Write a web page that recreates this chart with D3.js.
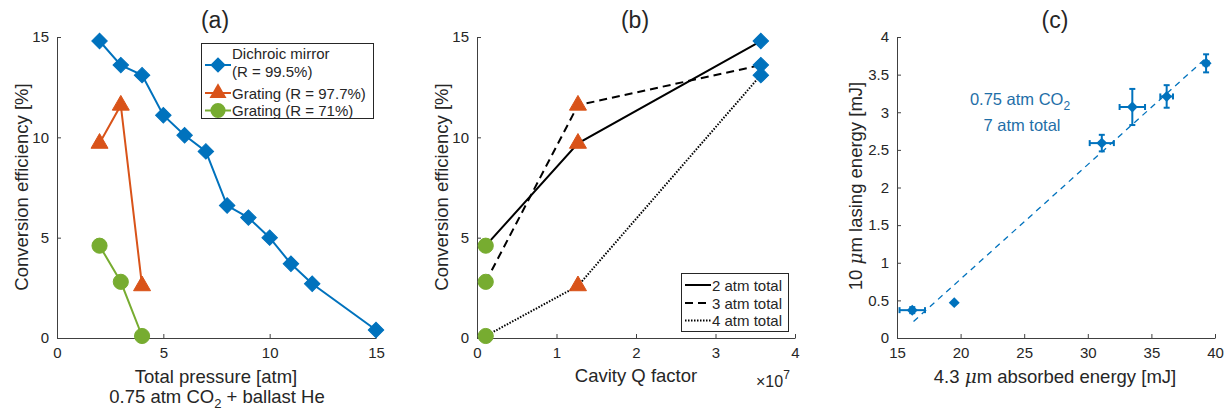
<!DOCTYPE html>
<html>
<head>
<meta charset="utf-8">
<script src="https://cdn.jsdelivr.net/npm/d3@7"></script>
<style>
  body { margin: 0; background: #fff; }
  svg { font-family: "Liberation Sans", Arial, Helvetica, sans-serif; }
  .axis path, .axis line { stroke: #404040; stroke-width: 1; }
  .axis text { fill: #262626; font-size: 15px; font-family: "Liberation Sans", Arial, sans-serif; }
</style>
</head>
<body>
<svg id="chart" width="1230" height="412"></svg>
<script>
// panel (a): efficiency vs total pressure
const pressureDichroic = [2, 3, 4, 5, 6, 7, 8, 9, 10, 11, 12, 15];
const effDichroic = [14.8, 13.6, 13.1, 11.1, 10.1, 9.3, 6.6, 6.0, 5.0, 3.7, 2.7, 0.4];
const pressureGrating = [2, 3, 4];
const effGrating977 = [9.7, 11.6, 2.6];
const effGrating71 = [4.6, 2.8, 0.1];

// panel (b): efficiency vs cavity Q
const qFactors = [0.11e7, 1.27e7, 3.57e7];
const eff2atm = [4.6, 9.7, 14.8];
const eff3atm = [2.8, 11.6, 13.6];
const eff4atm = [0.1, 2.6, 13.1];

// panel (c): lasing vs absorbed energy
const absorbed = [16.2, 19.5, 31.1, 33.5, 36.2, 39.3];
const absorbedErr = [1.0, 0, 0.95, 1.0, 0.5, 0.2];
const lasing = [0.37, 0.47, 2.59, 3.07, 3.21, 3.65];
const lasingErr = [0.04, 0, 0.11, 0.24, 0.15, 0.12];
const fitX = [16.3, 39.3];
const fitY = [0.22, 3.72];

const BLUE = '#0072BD', ORANGE = '#D95319', GREEN = '#77AC30';
const svg = d3.select('#chart');
const plotTop = 37, plotBottom = 338;
const LABEL = 18.5, TITLE = 23;

const diamond = (size) => d3.symbol().type(d3.symbolSquare).size(size)();
const triangle = (size) => d3.symbol().type(d3.symbolTriangle).size(size)();
const circle = (size) => d3.symbol().type(d3.symbolCircle).size(size)();

const dShape = diamond(120);
const tShape = triangle(125);
const cShape = circle(180);

function makeAxes(x0, x1, xDomain, yDomain, xTicks, yTicks) {
    const x = d3.scaleLinear().domain(xDomain).range([x0, x1]);
    const y = d3.scaleLinear().domain(yDomain).range([plotBottom, plotTop]);
    svg.append('g')
        .attr('class', 'axis')
        .attr('transform', 'translate(0,' + plotBottom + ')')
        .call(d3.axisBottom(x).tickValues(xTicks).tickSizeInner(-4).tickSizeOuter(0).tickPadding(9)
            .tickFormat((d) => xDomain[1] > 1e6 ? d / 1e7 : d));
    svg.append('g')
        .attr('class', 'axis')
        .attr('transform', 'translate(' + x0 + ',0)')
        .call(d3.axisLeft(y).tickValues(yTicks).tickSizeInner(-4).tickSizeOuter(0).tickPadding(8)
            .tickFormat(d3.format('~g')));
    svg.selectAll('.axis path').attr('fill', 'none');
    return { x, y };
}

function drawLine(s, xs, ys, color, dash, width) {
    const line = d3.line().x((d) => s.x(d[0])).y((d) => s.y(d[1]));
    svg.append('path')
        .datum(xs.map((v, i) => [v, ys[i]]))
        .attr('d', line)
        .attr('fill', 'none')
        .attr('stroke', color)
        .attr('stroke-width', width || 2)
        .attr('stroke-dasharray', dash || null);
}

function drawMarkers(s, xs, ys, shape, color) {
    svg.append('g').selectAll('path')
        .data(xs.map((v, i) => [v, ys[i]]))
        .enter()
        .append('path')
        .attr('d', shape)
        .attr('transform', (d) => 'translate(' + s.x(d[0]) + ',' + s.y(d[1]) + ')' + (shape === dShape ? ' rotate(45)' : ''))
        .attr('fill', color)
        .attr('stroke', color)
        .attr('stroke-width', 1);
}

function label(x, y, text, opts) {
    opts = opts || {};
    const t = svg.append('text')
        .attr('x', x).attr('y', y)
        .attr('text-anchor', opts.anchor || 'middle')
        .attr('font-size', (opts.size || LABEL) + 'px')
        .attr('fill', opts.color || '#262626');
    if (opts.rotate) t.attr('transform', 'rotate(-90,' + x + ',' + y + ')');
    return t.text(text);
}

// ---------- (a)
const sa = makeAxes(57, 376, [0, 15], [0, 15], [0, 5, 10, 15], [0, 5, 10, 15]);
drawLine(sa, pressureDichroic, effDichroic, BLUE);
drawMarkers(sa, pressureDichroic, effDichroic, dShape, BLUE);
drawLine(sa, pressureGrating, effGrating977, ORANGE);
drawMarkers(sa, pressureGrating, effGrating977, tShape, ORANGE);
drawLine(sa, pressureGrating, effGrating71, GREEN);
drawMarkers(sa, pressureGrating, effGrating71, cShape, GREEN);

label(215, 28, '(a)', { size: TITLE });
label(28, 187, 'Conversion efficiency [%]', { rotate: true });
label(216, 383, 'Total pressure [atm]');
const sub = label(217, 403, '0.75 atm CO');
sub.append('tspan').attr('font-size', '13px').attr('dy', 5).text('2');
sub.append('tspan').attr('dy', -5).text(' + ballast He');

// legend (a)
const legA = svg.append('g');
legA.append('rect').attr('x', 201.5).attr('y', 43.5).attr('width', 172).attr('height', 75)
    .attr('fill', '#fff').attr('stroke', '#262626').attr('stroke-width', 1);
const legAItems = [
    { y: 65, color: BLUE, shape: dShape, text: ['Dichroic mirror', '(R = 99.5%)'] },
    { y: 93, color: ORANGE, shape: tShape, text: ['Grating (R = 97.7%)'] },
    { y: 110.5, color: GREEN, shape: cShape, text: ['Grating (R = 71%)'] }
];
legAItems.forEach((it) => {
    legA.append('line').attr('x1', 205).attr('x2', 231).attr('y1', it.y).attr('y2', it.y)
        .attr('stroke', it.color).attr('stroke-width', 2);
    legA.append('path').attr('d', it.shape)
        .attr('transform', 'translate(218,' + it.y + ')' + (it.shape === dShape ? ' rotate(45)' : ''))
        .attr('fill', it.color);
    if (it.text.length === 2) {
        label(232, it.y - 6, it.text[0], { anchor: 'start', size: 15 });
        label(232, it.y + 12, it.text[1], { anchor: 'start', size: 15 });
    } else {
        label(232, it.y + 5.5, it.text[0], { anchor: 'start', size: 15 });
    }
});

// ---------- (b)
const sb = makeAxes(477, 795, [0, 4e7], [0, 15], [0, 1e7, 2e7, 3e7, 4e7], [0, 5, 10, 15]);
drawLine(sb, qFactors, eff2atm, '#000', null, 2);
drawLine(sb, qFactors, eff3atm, '#000', '8,5', 2);
drawLine(sb, qFactors, eff4atm, '#000', '1.5,1.5', 2);
[eff2atm, eff3atm, eff4atm].forEach((ys) => {
    drawMarkers(sb, [qFactors[0]], [ys[0]], cShape, GREEN);
    drawMarkers(sb, [qFactors[1]], [ys[1]], tShape, ORANGE);
    drawMarkers(sb, [qFactors[2]], [ys[2]], dShape, BLUE);
});
label(635, 28, '(b)', { size: TITLE });
label(448, 187, 'Conversion efficiency [%]', { rotate: true });
label(636, 382, 'Cavity Q factor');
const expo = label(756, 387, '\u00d710', { anchor: 'start', size: 16 });
expo.append('tspan').attr('font-size', '12px').attr('dy', -8).text('7');

// legend (b)
const legB = svg.append('g');
legB.append('rect').attr('x', 681.5).attr('y', 273.5).attr('width', 107).attr('height', 58)
    .attr('fill', '#fff').attr('stroke', '#262626').attr('stroke-width', 1);
[['2 atm total', null, 285], ['3 atm total', '8,5', 303], ['4 atm total', '1.5,1.5', 320.5]].forEach(([t, dash, y]) => {
    legB.append('line').attr('x1', 685).attr('x2', 711).attr('y1', y).attr('y2', y)
        .attr('stroke', '#000').attr('stroke-width', 2).attr('stroke-dasharray', dash);
    label(712, y + 5.5, t, { anchor: 'start', size: 15 });
});

// ---------- (c)
const sc = makeAxes(897, 1215, [15, 40], [0, 4], [15, 20, 25, 30, 35, 40], d3.range(0, 4.01, 0.5));
drawLine(sc, fitX, fitY, BLUE, '6,5', 1.3);
const errG = svg.append('g').attr('stroke', BLUE).attr('stroke-width', 2);
absorbed.forEach((xv, i) => {
    const cx = sc.x(xv), cy = sc.y(lasing[i]);
    if (absorbedErr[i] > 0) {
        const xl = sc.x(xv - absorbedErr[i]), xr = sc.x(xv + absorbedErr[i]);
        errG.append('line').attr('x1', xl).attr('x2', xr).attr('y1', cy).attr('y2', cy);
        errG.append('line').attr('x1', xl).attr('x2', xl).attr('y1', cy - 3).attr('y2', cy + 3);
        errG.append('line').attr('x1', xr).attr('x2', xr).attr('y1', cy - 3).attr('y2', cy + 3);
    }
    if (lasingErr[i] > 0) {
        const yt = sc.y(lasing[i] + lasingErr[i]), yb = sc.y(lasing[i] - lasingErr[i]);
        errG.append('line').attr('x1', cx).attr('x2', cx).attr('y1', yt).attr('y2', yb);
        errG.append('line').attr('x1', cx - 3).attr('x2', cx + 3).attr('y1', yt).attr('y2', yt);
        errG.append('line').attr('x1', cx - 3).attr('x2', cx + 3).attr('y1', yb).attr('y2', yb);
    }
});
svg.append('g').selectAll('path')
    .data(absorbed.map((v, i) => [v, lasing[i]]))
    .enter()
    .append('path')
    .attr('d', diamond(60))
    .attr('transform', (d) => 'translate(' + sc.x(d[0]) + ',' + sc.y(d[1]) + ') rotate(45)')
    .attr('fill', BLUE);

label(1055, 28, '(c)', { size: TITLE });
const yl = label(862, 186, '10 ', { rotate: true });
yl.append('tspan').attr('font-style', 'italic').attr('font-family', '"DejaVu Serif", serif').text('\u03bc');
yl.append('tspan').text('m lasing energy [mJ]');
const xlab = label(1055, 383, '4.3 ');
xlab.append('tspan').attr('font-style', 'italic').attr('font-family', '"DejaVu Serif", serif').text('\u03bc');
xlab.append('tspan').text('m absorbed energy [mJ]');
const ann = label(1020, 105, '0.75 atm CO', { color: '#1f6fa8', size: 16.5 });
ann.append('tspan').attr('font-size', '12px').attr('dy', 5).text('2');
label(1022, 131, '7 atm total', { color: '#1f6fa8', size: 16.5 });
</script>
</body>
</html>
